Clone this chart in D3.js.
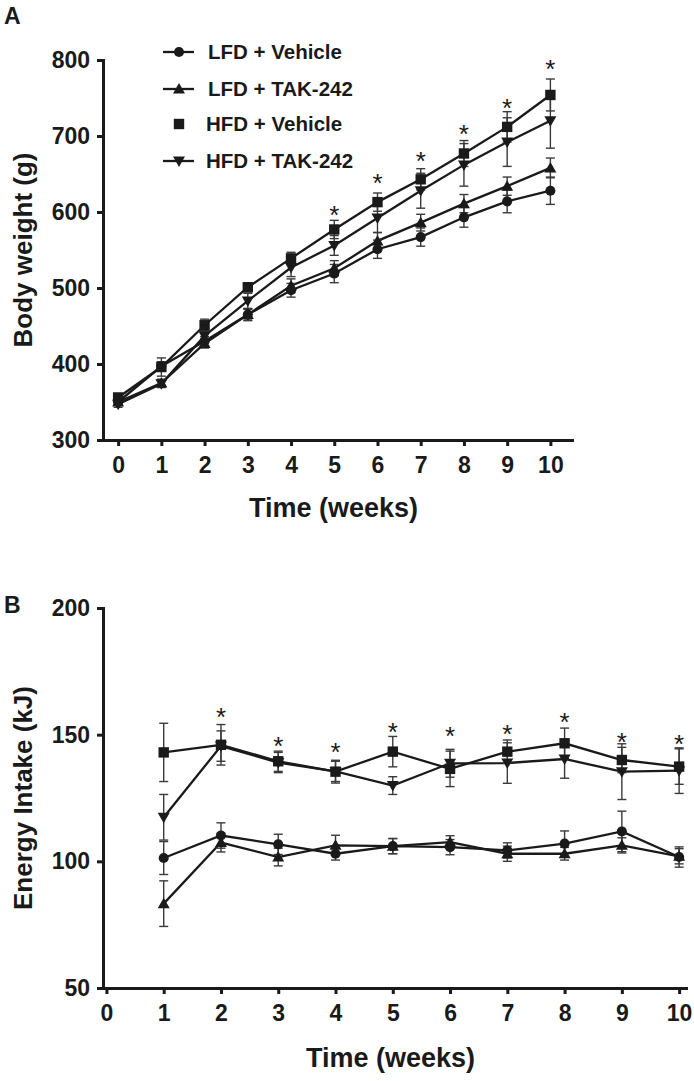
<!DOCTYPE html>
<html>
<head>
<meta charset="utf-8">
<script src="https://cdn.jsdelivr.net/npm/d3@7"></script>
<style>
  html, body { margin: 0; padding: 0; background: #fff; }
  svg { display: block; }
  text { font-family: Arial, "Liberation Sans", sans-serif; fill: #1a1a1a; }
</style>
</head>
<body>
<div id="chart"></div>
<script>
// ---------------- DATA ----------------
const seriesNames = ["LFD + Vehicle", "LFD + TAK-242", "HFD + Vehicle", "HFD + TAK-242"];
const seriesMarkers = ["circle", "triangle", "square", "invtriangle"];
const legendHasLine = [true, true, false, true];

// Panel A: body weight (g)
const weeksA = [0, 1, 2, 3, 4, 5, 6, 7, 8, 9, 10];
const lfdVehA = [350, 397, 430, 465, 497, 519, 551, 567, 593, 614, 628];
const lfdVehAErr = [4, 6, 6, 8, 9, 12, 12, 12, 13, 15, 18];
const lfdTakA = [350, 375, 427, 465, 503, 526, 562, 586, 611, 634, 658];
const lfdTakAErr = [4, 5, 6, 7, 9, 10, 11, 11, 12, 12, 13];
const hfdVehA = [356, 396, 451, 501, 539, 577, 613, 643, 677, 712, 754];
const hfdVehAErr = [4, 12, 8, 6, 8, 12, 12, 14, 17, 20, 21];
const hfdTakA = [347, 374, 437, 483, 527, 556, 592, 628, 662, 692, 720];
const hfdTakAErr = [4, 5, 7, 10, 12, 13, 19, 23, 28, 32, 36];
const starWeeksA = [5, 6, 7, 8, 9, 10];
const starValsA = [603, 645, 674, 709, 744, 795];
const yTicksA = [300, 400, 500, 600, 700, 800];
const xTicksA = [0, 1, 2, 3, 4, 5, 6, 7, 8, 9, 10];

// Panel B: energy intake (kJ)
const weeksB = [1, 2, 3, 4, 5, 6, 7, 8, 9, 10];
const lfdVehB = [101.3, 110.2, 106.7, 103.0, 106.0, 105.6, 104.3, 107.0, 111.8, 101.7];
const lfdVehBErr = [6.5, 5, 4, 2.5, 3, 3, 3, 5, 8, 4];
const lfdTakB = [83.3, 107.4, 101.7, 106.3, 106.0, 107.6, 103.0, 103.0, 106.3, 102.0];
const lfdTakBErr = [9, 3.7, 3.5, 4, 3, 2.5, 3, 2.5, 3, 3];
const hfdVehB = [143.0, 146.0, 139.5, 135.4, 143.3, 136.5, 143.3, 146.6, 140.0, 137.4];
const hfdVehBErr = [11.5, 8, 4, 4.5, 6, 7, 4.6, 6, 5, 7];
const hfdTakB = [117.4, 145.5, 139.0, 135.5, 129.9, 138.7, 138.8, 140.4, 135.4, 135.8];
const hfdTakBErr = [9, 6, 4, 4, 3.5, 5.5, 8, 7.6, 11, 9];
const starWeeksB = [2, 3, 4, 5, 6, 7, 8, 9, 10];
const starValsB = [158.8, 147.6, 145.0, 152.9, 151.6, 152.4, 156.8, 149.2, 148.3];
const yTicksB = [50, 100, 150, 200];
const xTicksB = [0, 1, 2, 3, 4, 5, 6, 7, 8, 9, 10];

// ---------------- DRAW ----------------
const W = 694, H = 1081;
const svg = d3.select("#chart").append("svg").attr("width", W).attr("height", H);
const INK = "#1a1a1a";

function markerPath(type) {
  if (type === "circle") {
    return d3.symbol().type(d3.symbolCircle).size(80)();
  }
  if (type === "square") {
    const s = 5.2;
    return `M${-s},${-s}H${s}V${s}H${-s}Z`;
  }
  if (type === "triangle") {
    return "M0,-6L6,4.5L-6,4.5Z";
  }
  return "M0,6L6,-4.5L-6,-4.5Z";
}

function drawPanel(opt) {
  const g = svg.append("g");
  const x = d3.scaleLinear().domain(opt.xDomain).range(opt.xRange);
  const y = d3.scaleLinear().domain(opt.yDomain).range(opt.yRange);

  // axes
  const yAxis = d3.axisLeft(y).tickValues(opt.yTicks).tickSize(6).tickSizeOuter(0).tickPadding(7);
  const xAxis = d3.axisBottom(x).tickValues(opt.xTicks).tickSize(6).tickSizeOuter(0).tickPadding(11);
  const gy = g.append("g").attr("transform", `translate(${opt.xRange[0]},0)`).call(yAxis);
  const gx = g.append("g").attr("transform", `translate(0,${opt.yRange[0]})`).call(xAxis);
  [gx, gy].forEach(a => {
    a.select(".domain").attr("stroke", INK).attr("stroke-width", 3).attr("stroke-linecap", "square");
    a.selectAll(".tick line").attr("stroke", INK).attr("stroke-width", 3);
    a.selectAll(".tick text").attr("font-size", 23).attr("font-weight", "bold").attr("fill", INK)
      .style("font-family", "Arial, 'Liberation Sans', sans-serif");
  });

  // axis titles
  g.append("text").attr("x", (opt.xRange[0] + opt.xRange[1]) / 2 - 4).attr("y", opt.xTitleY)
    .attr("text-anchor", "middle").attr("font-size", 27).attr("font-weight", "bold").text(opt.xTitle);
  g.append("text").attr("transform", `translate(32,${(opt.yRange[0] + opt.yRange[1]) / 2}) rotate(-90)`)
    .attr("text-anchor", "middle").attr("font-size", 26).attr("font-weight", "bold").text(opt.yTitle);

  // panel letter
  g.append("text").attr("x", 4).attr("y", opt.letterY).attr("font-size", 23).attr("font-weight", "bold").text(opt.letter);

  const line = d3.line().x(d => x(d.w)).y(d => y(d.v));
  const series = opt.series.map((s, i) => s.vals.map((v, j) => ({ w: opt.weeks[j], v: v, e: s.err[j], type: seriesMarkers[i] })));

  // lines
  series.forEach(s => {
    g.append("path").datum(s).attr("d", line).attr("fill", "none").attr("stroke", INK).attr("stroke-width", 2.3);
  });
  // error bars
  series.forEach(s => {
    const eb = g.append("g").attr("stroke", "#3a3a3a").attr("stroke-width", 1.4);
    s.forEach(d => {
      const cx = x(d.w), y1 = y(d.v + d.e), y2 = y(d.v - d.e);
      eb.append("line").attr("x1", cx).attr("x2", cx).attr("y1", y1).attr("y2", y2);
      eb.append("line").attr("x1", cx - 4.5).attr("x2", cx + 4.5).attr("y1", y1).attr("y2", y1);
      eb.append("line").attr("x1", cx - 4.5).attr("x2", cx + 4.5).attr("y1", y2).attr("y2", y2);
    });
  });
  // markers
  series.forEach(s => {
    g.selectAll(null).data(s).enter().append("path")
      .attr("d", d => markerPath(d.type))
      .attr("transform", d => `translate(${x(d.w)},${y(d.v)})`)
      .attr("fill", INK);
  });
  // significance stars
  g.selectAll(null).data(opt.starWeeks).enter().append("text")
    .attr("x", d => x(d)).attr("y", (d, i) => y(opt.starVals[i]) + 14)
    .attr("text-anchor", "middle").attr("font-size", 26).text("*");
}

drawPanel({
  letter: "A", letterY: 24,
  xDomain: [-0.35, 10.5], xRange: [103, 572],
  yDomain: [300, 800], yRange: [440, 60],
  xTicks: xTicksA, yTicks: yTicksA,
  xTitle: "Time (weeks)", xTitleY: 517,
  yTitle: "Body weight (g)",
  weeks: weeksA,
  series: [
    { vals: lfdVehA, err: lfdVehAErr },
    { vals: lfdTakA, err: lfdTakAErr },
    { vals: hfdVehA, err: hfdVehAErr },
    { vals: hfdTakA, err: hfdTakAErr }
  ],
  starWeeks: starWeeksA, starVals: starValsA
});

drawPanel({
  letter: "B", letterY: 613,
  xDomain: [-0.06, 10.12], xRange: [103, 686],
  yDomain: [50, 200], yRange: [988, 608],
  xTicks: xTicksB, yTicks: yTicksB,
  xTitle: "Time (weeks)", xTitleY: 1067,
  yTitle: "Energy Intake (kJ)",
  weeks: weeksB,
  series: [
    { vals: lfdVehB, err: lfdVehBErr },
    { vals: lfdTakB, err: lfdTakBErr },
    { vals: hfdVehB, err: hfdVehBErr },
    { vals: hfdTakB, err: hfdTakBErr }
  ],
  starWeeks: starWeeksB, starVals: starValsB
});

// legend (panel A)
const legendRowsY = [52, 89, 124, 161];
const lg = svg.append("g");
seriesNames.forEach((name, i) => {
  const cy = legendRowsY[i];
  if (legendHasLine[i]) {
    lg.append("line").attr("x1", 163).attr("x2", 194).attr("y1", cy).attr("y2", cy)
      .attr("stroke", INK).attr("stroke-width", 2.3);
  }
  lg.append("path").attr("d", markerPath(seriesMarkers[i])).attr("transform", `translate(179,${cy})`).attr("fill", INK);
  lg.append("text").attr("x", i < 2 ? 208 : 206).attr("y", cy + 7).attr("font-size", 20.5).attr("font-weight", "bold").text(name);
});
</script>
</body>
</html>
